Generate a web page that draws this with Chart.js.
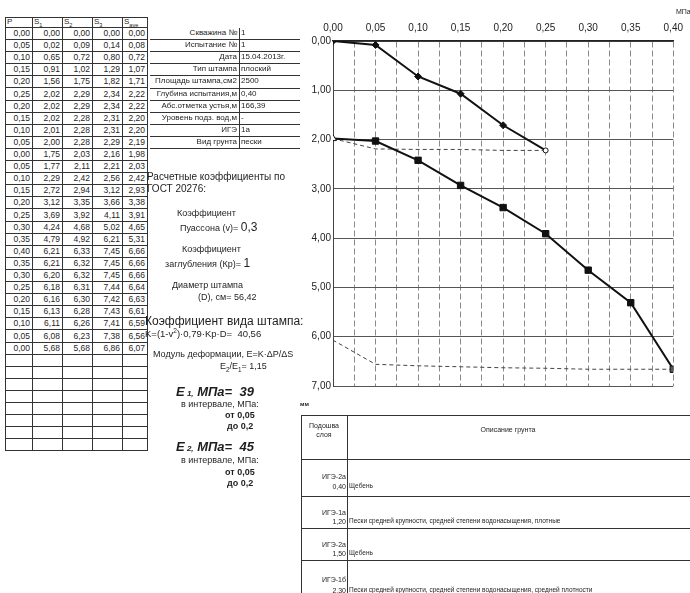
<!DOCTYPE html>
<html>
<head>
<meta charset="utf-8">
<script src="https://cdn.jsdelivr.net/npm/chart.js@4.4.0/dist/chart.umd.min.js"></script>
<style>
  body { margin: 0; width: 690px; height: 593px; overflow: hidden; background: #fff;
         font-family: "Liberation Sans", Arial, sans-serif; color: #1e1e1e; position: relative; }
  .t { position: absolute; white-space: nowrap; line-height: 1; }
  .c { position: absolute; box-sizing: border-box; border-right: 1px solid #333; border-bottom: 1px solid #333;
       font-size: 8.5px; text-align: right; padding-right: 2px; white-space: nowrap; }
  .ln { position: absolute; background: #333; }
  sub, sup { font-size: 70%; line-height: 0; }
  #wrap { position: absolute; left: 300px; top: 0; width: 390px; height: 400px; }
</style>
</head>
<body>
<div id="wrap"><canvas id="chart" width="390" height="400"></canvas></div>

<script>
// test data (P in MPa, settlements in mm)
var P    = [0.00,0.05,0.10,0.15,0.20,0.25,0.20,0.15,0.10,0.05,0.00,0.05,0.10,0.15,0.20,0.25,0.30,0.35,0.40,0.35,0.30,0.25,0.20,0.15,0.10,0.05,0.00];
var S1   = [0.00,0.02,0.65,0.91,1.56,2.02,2.02,2.02,2.01,2.00,1.75,1.77,2.29,2.72,3.12,3.69,4.24,4.79,6.21,6.21,6.20,6.18,6.16,6.13,6.11,6.08,5.68];
var S2   = [0.00,0.09,0.72,1.02,1.75,2.29,2.29,2.28,2.28,2.28,2.03,2.11,2.42,2.94,3.35,3.92,4.68,4.92,6.33,6.32,6.32,6.31,6.30,6.28,6.26,6.23,5.68];
var S3   = [0.00,0.14,0.80,1.29,1.82,2.34,2.34,2.31,2.31,2.29,2.16,2.21,2.56,3.12,3.66,4.11,5.02,6.21,7.45,7.45,7.45,7.44,7.42,7.43,7.41,7.38,6.86];
var Save = [0.00,0.08,0.72,1.07,1.71,2.22,2.22,2.20,2.20,2.19,1.98,2.03,2.42,2.93,3.38,3.91,4.65,5.31,6.66,6.66,6.66,6.64,6.63,6.61,6.59,6.56,6.07];

var infoLabels = ['Скважина №','Испытание №','Дата','Тип штампа','Площадь штампа,см2','Глубина испытания,м','Абс.отметка устья,м','Уровень подз. вод,м','ИГЭ','Вид грунта'];
var infoValues = ['1','1','15.04.2013г.','плоский','2500','0,40','166,39','-','1а','пески'];

var layerIge   = ['ИГЭ-2а','ИГЭ-1а','ИГЭ-2а','ИГЭ-1б'];
var layerDepth = ['0,40','1,20','1,50','2,30'];
var layerDesc  = ['Щебень',
                  'Пески средней крупности, средней степени водонасыщения, плотные',
                  'Щебень',
                  'Пески средней крупности, средней степени водонасыщения, средней плотности'];

function fmt(v) { return v.toFixed(2).replace('.', ','); }

function txt(x, cy, size, html, style) {
    var d = document.createElement('div');
    d.className = 't';
    d.style.left = x + 'px';
    d.style.top = (cy - size * 0.5) + 'px';
    d.style.fontSize = size + 'px';
    if (style) d.style.cssText += style;
    d.innerHTML = html;
    document.body.appendChild(d);
    return d;
}
function line(x, y, w, h) {
    var d = document.createElement('div');
    d.className = 'ln';
    d.style.cssText = 'left:' + x + 'px;top:' + y + 'px;width:' + w + 'px;height:' + h + 'px';
    document.body.appendChild(d);
}

// left data table
var colX = [5, 32, 62, 92, 122, 147];
var rowH = 12.1, tblTop = 17, headH = 10;
var heads = ['P', 'S<sub>1</sub>', 'S<sub>2</sub>', 'S<sub>3</sub>', 'S<sub>ave</sub>'];
var cols = [P, S1, S2, S3, Save];
var nRows = P.length + 8;
line(colX[0], tblTop, colX[5] - colX[0], 1);
line(colX[0], tblTop, 1, headH + nRows * rowH);
for (var j = 0; j < 5; j++) {
    var h = document.createElement('div');
    h.className = 'c';
    h.style.cssText = 'left:' + colX[j] + 'px;top:' + tblTop + 'px;width:' + (colX[j + 1] - colX[j] + 1) + 'px;height:' + (headH + 1) + 'px;text-align:left;padding-left:2px;line-height:9px;font-size:8px';
    h.innerHTML = heads[j];
    document.body.appendChild(h);
    for (var i = 0; i < nRows; i++) {
        var c = document.createElement('div');
        c.className = 'c';
        var cellTop = tblTop + headH + i * rowH;
        c.style.cssText = 'left:' + colX[j] + 'px;top:' + cellTop + 'px;width:' + (colX[j + 1] - colX[j] + 1) + 'px;height:' + (rowH + 1) + 'px;line-height:' + rowH + 'px';
        if (i < P.length) c.textContent = fmt(cols[j][i]);
        document.body.appendChild(c);
    }
}

// test info block
for (var k = 0; k < infoLabels.length; k++) {
    var rowTop = tblTop + headH + k * rowH;
    txt(0, rowTop + rowH / 2, 8, infoLabels[k], 'width:89px;text-align:right;left:148px');
    txt(241, rowTop + rowH / 2, 8, infoValues[k]);
    line(150, rowTop + rowH, 150, 1);
    line(239, rowTop + 1, 1, rowH);
}

// coefficients
txt(147, 177, 10, 'Расчетные коэффициенты по');
txt(147, 189, 10, 'ГОСТ 20276:');
txt(177, 213, 9, 'Коэффициент');
txt(180, 225, 9, 'Пуассона (v)= <span style="font-size:12px">0,3</span>');
txt(182, 249, 9, 'Коэффициент');
txt(165, 261, 9, 'заглубления (Кр)= <span style="font-size:12px">1</span>');
txt(172, 285, 9, 'Диаметр штампа');
txt(198, 297, 9, '(D), см= 56,42');
txt(145, 321, 12, 'Коэффициент вида штампа:');
txt(145, 334, 9.5, 'K=(1-v<sup>2</sup>)·0,79·Kp·D=&nbsp;&nbsp;40,56');
txt(153, 354, 9, 'Модуль деформации, E=K·ΔP/ΔS');
txt(220, 366, 9, 'E<sub>2</sub>/E<sub>1</sub>= 1,15');
txt(176, 391, 13, 'E<span style="font-size:8px"> 1,</span> МПа=&nbsp; 39', 'font-weight:bold;font-style:italic');
txt(181, 404, 9, 'в интервале, МПа:');
txt(225, 415, 9, 'от 0,05', 'font-weight:bold');
txt(227, 426, 9, 'до 0,2', 'font-weight:bold');
txt(176, 446, 13, 'E<span style="font-size:8px"> 2,</span> МПа=&nbsp; 45', 'font-weight:bold;font-style:italic');
txt(181, 460, 9, 'в интервале, МПа:');
txt(225, 472, 9, 'от 0,05', 'font-weight:bold');
txt(227, 483, 9, 'до 0,2', 'font-weight:bold');

// axis unit labels
txt(676, 11, 7, 'МПа');
txt(300, 404, 6, 'мм', 'font-weight:bold');

// soil layers table
line(301, 415, 400, 1);
line(301, 415, 1, 180);
line(347, 415, 1, 180);
line(301, 459, 400, 1);
txt(301, 425, 7, 'Подошва', 'width:46px;text-align:center');
txt(301, 434, 7, 'слоя', 'width:46px;text-align:center');
txt(348, 429, 7, 'Описание грунта', 'width:320px;text-align:center');
var rowLines = [496, 528, 560];
var igeY = [476, 512, 544, 579];
var descY = [486, 521, 553, 590];
for (var m = 0; m < layerIge.length; m++) {
    if (m < rowLines.length) line(301, rowLines[m], 400, 1);
    txt(290, igeY[m], 7, layerIge[m], 'width:55px;text-align:right;left:291px');
    txt(290, descY[m], 7, layerDepth[m], 'width:55px;text-align:right;left:291px');
    txt(349, descY[m], 6.5, layerDesc[m]);
}

// chart
function pts(a, b) {
    var r = [];
    for (var i = a; i <= b; i++) r.push({ x: P[i], y: Save[i] });
    return r;
}
function isMajor(v) { return Math.abs(v / 0.05 - Math.round(v / 0.05)) < 1e-6; }

var load1 = pts(0, 5), unload1 = pts(5, 10), load2 = pts(10, 18), unload2 = pts(18, 26);

new Chart(document.getElementById('chart').getContext('2d'), {
    type: 'scatter',
    data: {
        datasets: [
            {
                data: load1, showLine: true, borderColor: '#111', borderWidth: 2,
                pointStyle: load1.map(function (p, i) { return i === load1.length - 1 ? 'circle' : 'rectRot'; }),
                pointRadius: load1.map(function (p, i) { return i === load1.length - 1 ? 2.5 : 3.5; }),
                pointBackgroundColor: load1.map(function (p, i) { return i === load1.length - 1 ? '#fff' : '#111'; }),
                pointBorderColor: '#111', pointBorderWidth: 1
            },
            {
                data: load2, showLine: true, borderColor: '#111', borderWidth: 2,
                pointStyle: load2.map(function (p, i) { return i === 0 ? 'triangle' : 'rect'; }),
                pointRadius: load2.map(function (p, i) { return i === 0 ? 4 : 4.5; }),
                pointBackgroundColor: load2.map(function (p, i) { return i === 0 ? '#fff' : (i === load2.length - 1 ? '#555' : '#111'); }),
                pointBorderColor: '#111', pointBorderWidth: 1
            },
            {
                data: unload1, showLine: true, borderColor: '#444', borderWidth: 1,
                borderDash: [4, 3], pointRadius: 0
            },
            {
                data: unload2, showLine: true, borderColor: '#444', borderWidth: 1,
                borderDash: [4, 3], pointRadius: 0
            }
        ]
    },
    options: {
        responsive: false,
        animation: false,
        layout: { padding: { right: 12, bottom: 14 } },
        plugins: { legend: { display: false }, tooltip: { enabled: false } },
        scales: {
            x: {
                type: 'linear', position: 'top', min: 0, max: 0.4,
                afterFit: function (s) { s.height = 41; },
                ticks: {
                    stepSize: 0.025, autoSkip: false, maxRotation: 0, padding: 7,
                    color: '#222', font: { family: 'Liberation Sans', size: 10 },
                    callback: function (v) { return isMajor(v) ? fmt(v) : ''; }
                },
                grid: { color: '#8a8a8a', lineWidth: 1, drawTicks: false },
                border: { display: true, color: '#222', width: 1.5, dash: [6, 3] }
            },
            y: {
                type: 'linear', reverse: true, min: 0, max: 7,
                afterFit: function (s) { s.width = 33; },
                ticks: {
                    stepSize: 1, padding: 2, color: '#222',
                    font: { family: 'Liberation Sans', size: 10 },
                    callback: function (v) { return fmt(v); }
                },
                grid: { color: '#555', lineWidth: 1, drawTicks: false },
                border: { display: true, color: '#444', width: 1 }
            }
        }
    }
});
</script>
</body>
</html>
